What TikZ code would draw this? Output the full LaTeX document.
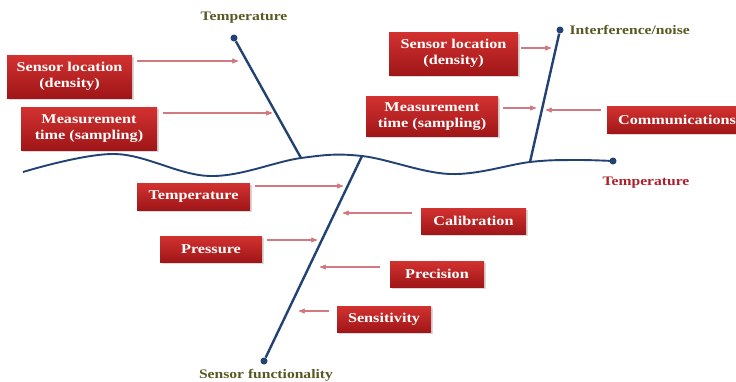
\documentclass[tikz,border=0pt]{standalone}
\usepackage{fontspec}
\setmainfont{Liberation Serif}
\newfontfamily\causefont[FakeStretch=1.2]{Liberation Serif}
\usepackage{xcolor}
\usetikzlibrary{arrows,shadows}
\definecolor{boxhi}{RGB}{210,50,48}
\definecolor{boxlo}{RGB}{160,22,24}
\definecolor{bonecol}{RGB}{34,66,116}
\definecolor{feedcol}{RGB}{208,122,128}
\definecolor{headcol}{RGB}{88,88,34}
\definecolor{effectcol}{RGB}{172,32,44}

\begin{document}
\begin{tikzpicture}[x=1pt,y=-1pt,>=stealth',semithick]
  \tikzstyle{cause}=[top color=boxhi,bottom color=boxlo,draw=none,text=white,
    font=\causefont\bfseries\fontsize{13.5}{16}\selectfont,align=center,inner sep=0pt,
    drop shadow={opacity=0.3,shadow xshift=1.5pt,shadow yshift=-1.5pt}]
  \tikzstyle{head}=[text=headcol,font=\causefont\bfseries\fontsize{13}{15}\selectfont]
  \tikzstyle{bone}=[draw=bonecol,line width=2.4pt]
  \tikzstyle{feed}=[->,draw=feedcol,line width=1.1pt]
  \tikzstyle{knob}=[circle,fill=bonecol,inner sep=0pt,minimum size=7pt]

  \useasboundingbox (0,0) rectangle (736,381);

  % spine and its joints
  \coordinate (j1) at (301,158);
  \coordinate (j2) at (362,156);
  \coordinate (j3) at (530,162);
  \node[knob] (e) at (613,161) {};
  \draw[draw=bonecol,line width=1.9pt] plot[smooth,tension=0.6] coordinates
    {(23,172) (115,154) (210,176) (j1) (j2) (450,174) (j3) (575,160) (e.center)};

  \node[knob] (k1) at (234,38) {};
  \node[knob] (k2) at (560,30) {};
  \node[knob] (k3) at (264,361) {};
  \draw[bone] (k1) -- (j1);
  \draw[bone] (k2) -- (j3);
  \draw[bone] (k3) -- (j2);

  \node[head] (h1) at (244,18) {Temperature};
  \node[head,anchor=west] (h2) at (566,30) {Interference/noise};
  \node[head] (h3) at (266,375) {Sensor functionality};
  \node[head,text=effectcol] (h4) at (646,183) {Temperature};

  % causes
  \node[cause,minimum width=125pt,minimum height=43pt] (a1) at (69.5,76.5) {Sensor location\\(density)};
  \node[cause,minimum width=136pt,minimum height=43pt] (a2) at (89,128.5) {Measurement\\time (sampling)};
  \node[cause,minimum width=129pt,minimum height=43pt] (b1) at (453.5,53.5) {Sensor location\\(density)};
  \node[cause,minimum width=132pt,minimum height=40pt] (b2) at (432,116.5) {Measurement\\time (sampling)};
  \node[cause,minimum width=140pt,minimum height=27pt] (b3) at (677,120) {Communications};
  \node[cause,minimum width=113pt,minimum height=27pt] (c1) at (193.5,196.5) {Temperature};
  \node[cause,minimum width=105pt,minimum height=26pt] (c2) at (473.5,221) {Calibration};
  \node[cause,minimum width=102pt,minimum height=26pt] (c3) at (211,249) {Pressure};
  \node[cause,minimum width=94pt,minimum height=26pt] (c4) at (437,274) {Precision};
  \node[cause,minimum width=94pt,minimum height=26pt] (c5) at (384,319) {Sensitivity};

  \coordinate (ta1) at (238,61);
  \coordinate (ta2) at (272,113);
  \coordinate (tb1) at (551,48);
  \coordinate (tb2) at (536,108);
  \coordinate (tb3) at (546,110);
  \coordinate (tc1) at (343,186);
  \coordinate (tc2) at (343,213);
  \coordinate (tc3) at (317,240);
  \coordinate (tc4) at (320,267);
  \coordinate (tc5) at (299,311);

  \draw[feed] ([xshift=5pt]a1.east |- ta1) -- (ta1);
  \draw[feed] ([xshift=6pt]a2.east |- ta2) -- (ta2);
  \draw[feed] ([xshift=3pt]b1.east |- tb1) -- (tb1);
  \draw[feed] ([xshift=5pt]b2.east |- tb2) -- (tb2);
  \draw[feed] ([xshift=-6pt]b3.west |- tb3) -- (tb3);
  \draw[feed] ([xshift=5pt]c1.east |- tc1) -- (tc1);
  \draw[feed] ([xshift=-9pt]c2.west |- tc2) -- (tc2);
  \draw[feed] ([xshift=5pt]c3.east |- tc3) -- (tc3);
  \draw[feed] ([xshift=-10pt]c4.west |- tc4) -- (tc4);
  \draw[feed] ([xshift=-8pt]c5.west |- tc5) -- (tc5);
\end{tikzpicture}
\end{document}
